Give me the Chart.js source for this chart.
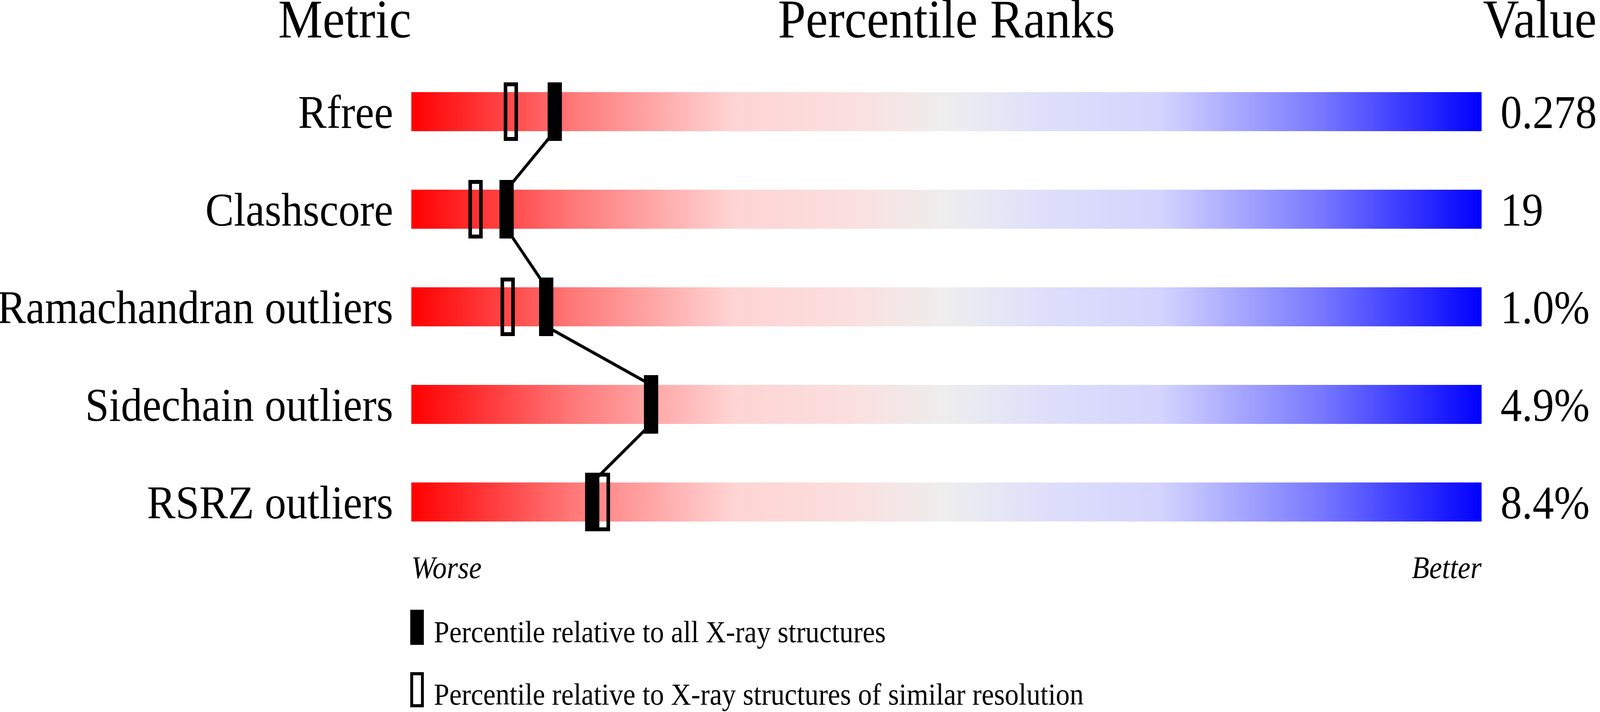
<!DOCTYPE html>
<html>
<head>
<meta charset="utf-8">
<script src="https://cdn.jsdelivr.net/npm/chart.js@4.4.1/dist/chart.umd.min.js"></script>
<style>
  html, body { margin: 0; padding: 0; background: #fff; overflow: hidden; }
  #wrap { position: absolute; left: 0; top: 0; width: 4485px; height: 1824px; transform-origin: 0 0; }
</style>
</head>
<body>
<div id="wrap"><canvas id="slider"></canvas></div>
<script>
const metrics = ["Rfree", "Clashscore", "Ramachandran outliers", "Sidechain outliers", "RSRZ outliers"];
const values = ["0.278", "19", "1.0%", "4.9%", "8.4%"];
// percentile vs all X-ray structures (filled markers)
const pctAll = [13.4, 8.9, 12.6, 22.4, 16.9];
// percentile vs structures of similar resolution (open markers), none for sidechains
const pctSimilar = [9.3, 6.0, 9.0, null, 17.9];
const headers = ["Metric", "Percentile Ranks", "Value"];
const scaleEnds = ["Worse", "Better"];
const legendLabels = ["Percentile relative to all X-ray structures",
                      "Percentile relative to X-ray structures of similar resolution"];
const rangeLimits = [0, 100];

const serif = "'Liberation Serif', 'Times New Roman', serif";

// the figure is laid out at 4485x1824; fit that box to whatever viewport we get
const wrap = document.getElementById("wrap");
const sx = window.innerWidth / 4485, sy = window.innerHeight / 1824;
wrap.style.transform = `scale(${sx}, ${sy})`;

// marker glyphs used as point styles
function markerImage(filled) {
  const c = document.createElement("canvas");
  c.width = 40;
  c.height = 150;
  const g = c.getContext("2d");
  if (filled) {
    g.fillStyle = "#000";
    g.fillRect(0, 0, 40, 150);
  } else {
    g.strokeStyle = "#000";
    g.lineWidth = 10;
    g.strokeRect(5, 5, 30, 140);
  }
  return c;
}

function barGradient(context) {
  const chart = context.chart;
  if (!chart.chartArea) return "#eeeeee";
  const x = chart.scales.x;
  const g = chart.ctx.createLinearGradient(x.getPixelForValue(0), 0, x.getPixelForValue(100), 0);
  g.addColorStop(0, "rgb(255,0,0)");
  g.addColorStop(0.15, "rgb(255,120,120)");
  g.addColorStop(0.3, "rgb(255,212,212)");
  g.addColorStop(0.4, "rgb(252,222,222)");
  g.addColorStop(0.5, "rgb(238,238,238)");
  g.addColorStop(0.6, "rgb(222,222,252)");
  g.addColorStop(0.7, "rgb(212,212,255)");
  g.addColorStop(0.85, "rgb(120,120,255)");
  g.addColorStop(1, "rgb(0,0,255)");
  return g;
}

const barShare = 0.4;      // bar thickness as share of a row
const half = barShare / 2;

// zig-zag line: bottom of one bar to the top of the next
const linkPoints = [];
pctAll.forEach((p, i) => {
  if (i > 0) linkPoints.push({x: p, y: i - half});
  if (i < pctAll.length - 1) linkPoints.push({x: p, y: i + half});
});

const headerPlugin = {
  id: "headerText",
  afterDraw(chart) {
    const {ctx, chartArea, scales} = chart;
    ctx.save();
    ctx.fillStyle = "#000";
    ctx.font = "140px " + serif;
    ctx.textBaseline = "alphabetic";
    const yb = chartArea.top - 65;
    ctx.textAlign = "right";
    ctx.fillText(headers[0], chartArea.left, yb);
    ctx.textAlign = "center";
    ctx.fillText(headers[1], scales.x.getPixelForValue(50), yb);
    ctx.textAlign = "left";
    ctx.fillText(headers[2], chartArea.right + 4, yb);
    ctx.restore();
  }
};

const legendPlugin = {
  id: "markerLegend",
  afterDraw(chart) {
    const {ctx, chartArea} = chart;
    ctx.save();
    ctx.font = "78px " + serif;
    ctx.textBaseline = "alphabetic";
    ctx.textAlign = "left";
    legendLabels.forEach((text, i) => {
      const top = chartArea.bottom + 151 + i * 160;
      const left = chartArea.left - 3;
      if (i === 0) {
        ctx.fillStyle = "#000";
        ctx.fillRect(left, top, 38, 90);
      } else {
        ctx.strokeStyle = "#000";
        ctx.lineWidth = 8;
        ctx.strokeRect(left + 4, top + 4, 30, 82);
      }
      ctx.fillStyle = "#000";
      ctx.fillText(text, left + 66, top + 83);
    });
    ctx.restore();
  }
};

const rowAxis = (pos, labels, width, pad) => ({
  type: "linear",
  position: pos,
  min: -0.5,
  max: metrics.length - 0.5,
  reverse: true,
  offset: false,
  grid: {display: false, drawTicks: false},
  border: {display: false},
  afterBuildTicks: s => { s.ticks = labels.map((_, i) => ({value: i})); },
  afterFit: s => { s.width = width; },
  ticks: {
    autoSkip: false,
    padding: pad,
    labelOffset: 10,
    color: "#000",
    font: {family: serif, size: 120},
    callback: v => labels[v]
  }
});

new Chart(document.getElementById("slider"), {
  type: "bar",
  data: {
    datasets: [
      {
        type: "line",
        label: legendLabels[0],
        data: pctAll.map((p, i) => ({x: p, y: i})),
        showLine: false,
        pointStyle: markerImage(true),
        pointRadius: 1,
        order: 0
      },
      {
        type: "line",
        label: "link",
        data: linkPoints,
        borderColor: "#000",
        borderWidth: 8,
        pointRadius: 0,
        tension: 0,
        fill: false,
        order: 1
      },
      {
        type: "line",
        label: legendLabels[1],
        data: pctSimilar.map((p, i) => ({x: p, y: i})).filter(d => d.x !== null),
        showLine: false,
        pointStyle: markerImage(false),
        pointRadius: 1,
        order: 2
      },
      {
        type: "bar",
        label: "range",
        data: metrics.map((_, i) => ({x: [...rangeLimits], y: i})),
        backgroundColor: barGradient,
        borderWidth: 0,
        barPercentage: barShare,
        categoryPercentage: 1,
        order: 3
      }
    ]
  },
  options: {
    indexAxis: "y",
    responsive: true,
    maintainAspectRatio: false,
    devicePixelRatio: Math.max(1, (window.devicePixelRatio || 1) * Math.max(sx, sy)),
    animation: false,
    events: [],
    layout: {padding: {top: 161, bottom: 313, left: 0, right: 0}},
    plugins: {
      legend: {display: false},
      tooltip: {enabled: false}
    },
    scales: {
      x: {
        type: "linear",
        position: "bottom",
        min: rangeLimits[0],
        max: rangeLimits[1],
        grid: {display: false, drawTicks: false},
        border: {display: false},
        afterBuildTicks: s => { s.ticks = rangeLimits.map(v => ({value: v})); },
        afterFit: s => { s.height = 100; },
        ticks: {
          autoSkip: false,
          maxRotation: 0,
          align: "inner",
          padding: 1,
          color: "#000",
          font: {family: serif, size: 80, style: "italic"},
          callback: (v, i) => scaleEnds[i]
        }
      },
      y: rowAxis("left", metrics, 1153, 51),
      y2: rowAxis("right", values, 332, 53)
    }
  },
  plugins: [headerPlugin, legendPlugin]
});
</script>
</body>
</html>
